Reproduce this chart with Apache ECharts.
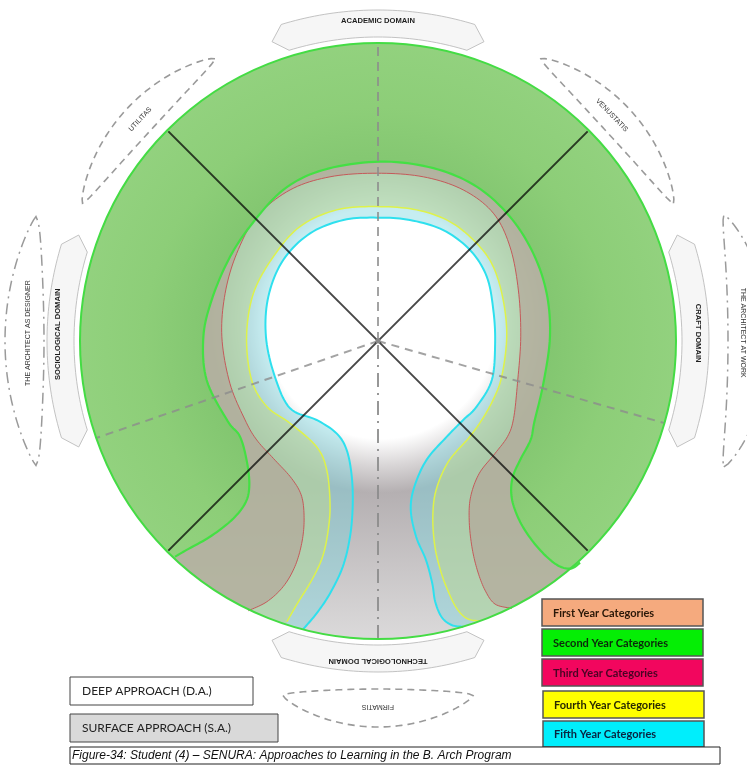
<!DOCTYPE html>
<html><head><meta charset="utf-8">
<script src="https://cdn.jsdelivr.net/npm/echarts@6/dist/echarts.min.js"></script>
<style>html,body{margin:0;padding:0;background:#fff}#c{width:747px;height:765px}</style>
</head><body><div id="c"></div>
<script>
// ---------- DATA ----------
const categories = ['First Year Categories','Second Year Categories','Third Year Categories','Fourth Year Categories','Fifth Year Categories'];
const approaches = ['DEEP APPROACH (D.A.)','SURFACE APPROACH (S.A.)'];
const domains = ['ACADEMIC DOMAIN','CRAFT DOMAIN','TECHNOLOGICAL DOMAIN','SOCIOLOGICAL DOMAIN'];
const triad = ['UTILITAS','VENUSTATIS','FIRMATIS'];
const roles = ['THE ARCHITECT AS DESIGNER','THE ARCHITECT AT WORK'];
const caption = 'Figure-34: Student (4) \u2013 SENURA: Approaches to Learning in the B. Arch Program';

// contour outlines (x, y) on a -100..100 scale, circle radius = 100
const secondYear = [[-68.1,-72.4],[-64.2,-70.1],[-56.4,-65.7],[-49.1,-60.1],[-44.6,-54.5],[-43.2,-48.9],[-43.9,-41.0],[-46.3,-32.1],[-50.5,-26.8],[-57.5,-13.1],[-58.6,1.4],[-55.8,13.8],[-50.2,27.2],[-43.0,38.4],[-31.8,50.7],[-18.4,57.4],[0.7,60.2],[18.6,58.0],[33.1,51.8],[44.3,41.7],[52.1,29.4],[56.6,16.0],[57.7,1.4],[55.5,-14.2],[52.5,-27.0],[51.2,-33.2],[47.7,-39.9],[45.1,-46.1],[44.9,-52.8],[47.4,-60.1],[51.6,-66.8],[56.6,-72.4],[61.1,-75.7],[65.0,-76.3],[67.8,-74.4]];
const thirdYear = [[-43.5,-90.5],[-37.3,-87.5],[-31.8,-82.4],[-27.9,-75.7],[-25.6,-67.9],[-24.8,-60.1],[-25.6,-52.2],[-29.0,-46.1],[-35.1,-39.4],[-40.7,-33.2],[-44.6,-26.5],[-49.7,-14.2],[-52.4,1.4],[-51.3,16.0],[-47.4,29.4],[-40.7,41.7],[-29.5,50.7],[-16.1,55.1],[-0.4,56.3],[15.2,55.1],[28.6,50.7],[38.7,42.9],[44.3,31.6],[47.1,17.1],[47.9,1.4],[46.8,-14.2],[45.5,-26.0],[43.5,-32.0],[39.3,-37.7],[34.0,-44.4],[31.1,-52.2],[30.6,-60.1],[31.5,-69.0],[33.3,-76.8],[35.9,-83.6],[39.3,-88.3],[44.9,-89.7]];
const fourthYear = [[-30.6,-94.2],[-26.7,-87.5],[-22.2,-80.2],[-18.6,-72.4],[-16.7,-63.4],[-16.1,-54.5],[-17.2,-43.3],[-20.6,-35.5],[-29.5,-27.6],[-37.3,-22.0],[-42.4,-13.1],[-44.1,1.4],[-41.8,16.0],[-35.1,28.3],[-26.2,38.4],[-13.9,44.0],[-0.4,45.1],[13.0,44.0],[24.2,40.0],[33.1,32.8],[38.7,24.9],[42.0,13.8],[43.2,1.4],[41.5,-12.0],[38.5,-20.0],[34.5,-27.0],[30.3,-32.7],[23.6,-40.5],[19.5,-50.0],[18.4,-59.0],[19.1,-69.0],[21.1,-77.4],[23.6,-84.1],[26.4,-89.7],[29.8,-93.1],[34.2,-94.0]];
const fifthYear = [[-25.1,-96.7],[-20.6,-91.4],[-16.1,-84.7],[-11.8,-75.7],[-9.4,-65.7],[-8.5,-55.6],[-8.8,-45.5],[-10.5,-36.6],[-13.9,-31.0],[-20.6,-26.5],[-29.5,-22.6],[-34.6,-12.0],[-37.6,1.4],[-36.8,14.9],[-31.8,27.2],[-22.8,36.1],[-11.6,40.6],[-0.4,41.4],[10.7,40.6],[21.9,37.2],[30.9,30.5],[36.5,21.6],[38.7,10.4],[39.3,-0.8],[38.2,-13.1],[33.1,-22.0],[28.6,-26.5],[23.1,-32.1],[16.3,-39.9],[12.2,-48.9],[11.0,-56.7],[12.8,-65.7],[16.1,-73.5],[18.2,-81.3],[19.2,-87.5],[21.4,-92.7],[24.7,-95.3],[28.6,-95.9]];

// ---------- HELPERS ----------
const CX = 378, CY = 341;
const D2R = Math.PI / 180;
function P(r, deg) { const a = deg * D2R; return [CX + r * Math.cos(a), CY - r * Math.sin(a)]; }
function arcPts(r, d0, d1, n) { const o = []; for (let i = 0; i <= n; i++) o.push(P(r, d0 + (d1 - d0) * i / n)); return o; }
function banner(aC, half, r1, r2, tip) {
  const rm = (r1 + r2) / 2;
  return [].concat(arcPts(r1, aC - half, aC + half, 40), [P(rm, aC + half + tip)], arcPts(r2, aC + half, aC - half, 40), [P(rm, aC - half - tip)]);
}
function lens(a0, a1, rIn, rOut, rTip) {
  const outer = [], inner = [], n = 60;
  for (let i = 0; i <= n; i++) {
    const t = i / n, a = a0 + (a1 - a0) * t, s = Math.pow(Math.sin(Math.PI * t), 0.7);
    outer.push(P(rTip + (rOut - rTip) * s, a));
    inner.push(P(rTip - (rTip - rIn) * s, a));
  }
  return outer.concat(inner.reverse());
}
function spline(pts, seg) {
  seg = seg || 10;
  const out = [pts[0]];
  for (let i = 0; i < pts.length - 1; i++) {
    const p0 = pts[i - 1] || pts[i], p1 = pts[i], p2 = pts[i + 1], p3 = pts[i + 2] || pts[i + 1];
    for (let s = 1; s <= seg; s++) {
      const t = s / seg, t2 = t * t, t3 = t2 * t;
      const f = k => 0.5 * ((2 * p1[k]) + (-p0[k] + p2[k]) * t + (2 * p0[k] - 5 * p1[k] + 4 * p2[k] - p3[k]) * t2 + (-p0[k] + 3 * p1[k] - 3 * p2[k] + p3[k]) * t3);
      out.push([f(0), f(1)]);
    }
  }
  return out;
}

// layer = region between the circle and the year's contour
function layerSeries(name, data, fill, stroke, lw) {
  return {
    type: 'custom', name: name, coordinateSystem: 'cartesian2d', data: data, silent: true, clip: false,
    renderItem: function (params, api) {
      if (params.dataIndex !== 0) return null;
      const c = api.coord([0, 0]);
      const rr = api.coord([100, 0])[0] - c[0];
      const curve = spline(data.map(p => api.coord(p)));
      const first = curve[0], last = curve[curve.length - 1];
      const a0 = Math.atan2(-(first[1] - c[1]), first[0] - c[0]);
      const a1 = Math.atan2(-(last[1] - c[1]), last[0] - c[0]);
      let A0 = a0; while (A0 < a1) A0 += 2 * Math.PI;
      const arc = [], N = 160;
      for (let k = 0; k <= N; k++) { const a = a1 + (A0 - a1) * k / N; arc.push([c[0] + rr * Math.cos(a), c[1] - rr * Math.sin(a)]); }
      const f = typeof fill === 'function' ? fill(c, rr) : fill;
      return { type: 'group', children: [
        { type: 'polygon', shape: { points: curve.concat(arc) }, style: { fill: f, stroke: null } },
        { type: 'polyline', shape: { points: curve }, style: { stroke: stroke, lineWidth: lw, fill: null } }
      ] };
    }
  };
}

const bgSeries = {
  type: 'custom', name: 'background', coordinateSystem: 'cartesian2d', data: [[0, 0]], silent: true, clip: false,
  renderItem: function (params, api) {
    const c = api.coord([0, 0]);
    const rr = api.coord([100, 0])[0] - c[0];
    const head = api.coord([1, 6]);
    const top = api.coord([0, -50]), bot = api.coord([0, -100]);
    return { type: 'group', children: [
      { type: 'circle', shape: { cx: c[0], cy: c[1], r: rr }, style: { fill: {
        type: 'radial', x: head[0], y: head[1], r: 170, global: true,
        colorStops: [{ offset: 0, color: '#ffffff' }, { offset: 0.68, color: '#ffffff' }, { offset: 0.84, color: '#d8d5d6' }, { offset: 1, color: '#b4afb1' }] } } },
      { type: 'circle', shape: { cx: c[0], cy: c[1], r: rr }, style: { fill: {
        type: 'linear', x: 0, y: top[1], x2: 0, y2: bot[1], global: true,
        colorStops: [{ offset: 0, color: 'rgba(235,235,235,0)' }, { offset: 1, color: 'rgba(232,232,232,0.75)' }] } } }
    ] };
  }
};

const structSeries = {
  type: 'custom', name: 'axes', coordinateSystem: 'cartesian2d', data: [[0, 0]], silent: true, clip: false,
  renderItem: function (params, api) {
    const c = api.coord([0, 0]);
    const rr = api.coord([100, 0])[0] - c[0];
    const pt = (deg, r) => api.coord([r * Math.cos(deg * D2R), r * Math.sin(deg * D2R)]);
    const ch = [];
    [[90, [9, 6]], [199, [8, 6]], [344, [8, 6]]].forEach(d => {
      const e = pt(d[0], 100);
      ch.push({ type: 'line', shape: { x1: c[0], y1: c[1], x2: e[0], y2: e[1] }, style: { stroke: 'rgba(140,140,140,0.8)', lineWidth: 2, lineDash: d[1] } });
    });
    const eb = pt(270, 100);
    ch.push({ type: 'line', shape: { x1: c[0], y1: c[1] + 4, x2: eb[0], y2: eb[1] }, style: { stroke: 'rgba(140,140,140,0.9)', lineWidth: 2, lineDash: [14, 6, 2, 6] } });
    [[135, 315], [45, 225]].forEach(d => {
      const a = pt(d[0], 99.5), b = pt(d[1], 99.5);
      ch.push({ type: 'line', shape: { x1: a[0], y1: a[1], x2: b[0], y2: b[1] }, style: { stroke: 'rgba(0,0,0,0.72)', lineWidth: 2 } });
    });
    ch.push({ type: 'circle', shape: { cx: c[0], cy: c[1], r: rr }, style: { fill: null, stroke: '#44dc44', lineWidth: 2 } });
    ch.push({ type: 'circle', shape: { cx: c[0], cy: c[1], r: 2.5 }, style: { fill: '#888' } });
    return { type: 'group', children: ch };
  }
};

function greenFill(c, rr) {
  return { type: 'radial', x: c[0], y: c[1], r: rr, global: true,
    colorStops: [{ offset: 0, color: 'rgba(118,192,100,0.93)' }, { offset: 0.55, color: 'rgba(126,199,108,0.93)' }, { offset: 0.78, color: 'rgba(138,208,117,0.93)' }, { offset: 1, color: 'rgba(144,212,124,0.93)' }] };
}

// ---------- DECORATIONS ----------
const G = [];
const dashGray = '#9a9a9a';
[[90, domains[0], 0], [0, domains[1], -90], [270, domains[2], 180], [180, domains[3], 90]].forEach(b => {
  G.push({ type: 'polygon', shape: { points: banner(b[0], 17, 304, 331, 2.5) }, style: { fill: '#f6f6f6', stroke: '#b4b4b4', lineWidth: 0.8 } });
  const p = P(320, b[0] + (b[0] === 0 ? 1.4 : b[0] === 180 ? -1.2 : 0));
  G.push({ type: 'text', x: p[0], y: p[1], rotation: b[2] * D2R, style: { text: b[1], font: 'bold 7.6px "Liberation Sans", sans-serif', fill: '#1e1e1e', align: 'center', verticalAlign: 'middle' } });
});
[[120, 155, 310, 342, 326, 137, triad[0]], [25, 60, 310, 342, 326, 44, triad[1]], [255, 285, 348, 386, 367, 270, triad[2]]].forEach(l => {
  G.push({ type: 'polygon', shape: { points: lens(l[0], l[1], l[2], l[3], l[4]) }, style: { fill: null, stroke: dashGray, lineWidth: 1.6, lineDash: [7, 5] } });
  const p = P(l[4] - 1, l[5]);
  G.push({ type: 'text', x: p[0], y: p[1], rotation: (l[5] - 90) * D2R, style: { text: l[6], font: '7px "Liberation Sans", sans-serif', fill: '#333', align: 'center', verticalAlign: 'middle' } });
});
[[160, 200, 334, 373, 364, 180, roles[0], 350], [-20, 20, 350, 392, 368, 0, roles[1], 365]].forEach(l => {
  G.push({ type: 'polygon', shape: { points: lens(l[0], l[1], l[2], l[3], l[4]) }, style: { fill: null, stroke: dashGray, lineWidth: 1.5, lineDash: [11, 5, 2, 5] } });
  const p = P(l[7], l[5] + (l[5] === 180 ? -1.3 : 1.3));
  G.push({ type: 'text', x: p[0], y: p[1], rotation: (l[5] - 90) * D2R, style: { text: l[6], font: '7px "Liberation Sans", sans-serif', fill: '#333', align: 'center', verticalAlign: 'middle' } });
});
const legendFill = ['#f5aa7e', '#05ee05', '#f2065e', '#ffff00', '#00eefc'];
const legendText = ['#2a1808', '#0b2a0b', '#4a0424', '#2a2a00', '#0a2440'];
const legendBox = [[542, 599, 161, 27], [542, 629, 161, 27], [542, 659, 161, 27], [543, 691, 161, 27], [543, 721, 161, 26]];
categories.forEach((name, i) => {
  const b = legendBox[i];
  G.push({ type: 'rect', shape: { x: b[0], y: b[1], width: b[2], height: b[3] }, style: { fill: legendFill[i], stroke: '#555', lineWidth: 1.5 } });
  G.push({ type: 'text', x: b[0] + 11, y: b[1] + b[3] / 2 + 0.5, style: { text: name, font: 'bold 11px Lato, sans-serif', fill: legendText[i], align: 'left', verticalAlign: 'middle' } });
});
[[70, 677, 183, 28, '#ffffff'], [70, 714, 208, 28, '#d9d9d9']].forEach((b, i) => {
  G.push({ type: 'rect', shape: { x: b[0], y: b[1], width: b[2], height: b[3] }, style: { fill: b[4], stroke: '#444', lineWidth: 1 } });
  G.push({ type: 'text', x: b[0] + 12, y: b[1] + b[3] / 2 + 0.5, style: { text: approaches[i], font: '12px Lato, sans-serif', fill: '#222', align: 'left', verticalAlign: 'middle' } });
});
G.push({ type: 'rect', shape: { x: 70, y: 747, width: 650, height: 17 }, style: { fill: '#fff', stroke: '#222', lineWidth: 1 } });
G.push({ type: 'text', x: 72, y: 756, style: { text: caption, font: 'italic 12px "Liberation Sans", Arial, sans-serif', fill: '#111', align: 'left', verticalAlign: 'middle' } });

const option = {
  animation: false,
  backgroundColor: '#ffffff',
  grid: { left: 80, top: 43, width: 596, height: 596 },
  xAxis: { type: 'value', min: -100, max: 100, show: false },
  yAxis: { type: 'value', min: -100, max: 100, show: false },
  graphic: G,
  series: [
    bgSeries,
    layerSeries(categories[4], fifthYear, 'rgba(120,212,222,0.42)', '#2ee0ee', 2),
    layerSeries(categories[3], fourthYear, 'rgba(188,214,150,0.55)', '#def24a', 1.5),
    layerSeries(categories[2], thirdYear, 'rgba(180,160,150,0.6)', '#c45a5a', 1),
    layerSeries(categories[1], secondYear, greenFill, '#44e044', 2.2),
    structSeries
  ]
};
const chart = echarts.init(document.getElementById('c'));
chart.setOption(option);
</script>
</body></html>
